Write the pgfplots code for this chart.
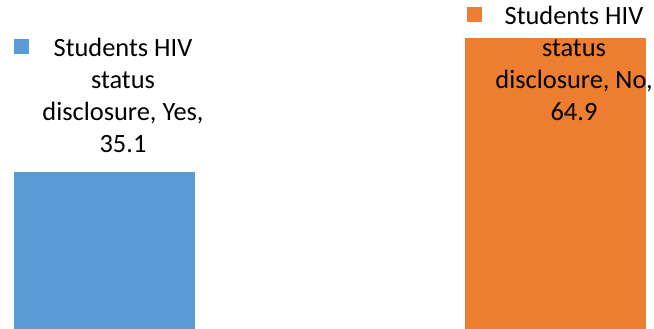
\documentclass[border=0pt]{standalone}
\usepackage{pgfplots}
\pgfplotsset{compat=1.18}
\usepackage{fontspec}
\setmainfont{Carlito}
\definecolor{cblue}{HTML}{5B9BD5}
\definecolor{corange}{HTML}{ED7D31}
\begin{document}
\begin{tikzpicture}
\begin{axis}[
  scale only axis, width=654bp, height=329bp,
  hide axis,
  xmin=-0.2317, xmax=1.2184,
  ymin=0, ymax=73.5,
  clip=true,
]
\addplot[ybar, bar shift=0pt, bar width=0.4013, fill=cblue, draw=none,
  nodes near coords={\llap{\textcolor{cblue}{\rule[2bp]{15bp}{15bp}}\hspace{25bp}}Students HIV\\status\\disclosure, Yes,\\35.1},
  every node near coord/.append style={anchor=south, inner sep=0pt, align=center,
    xshift=18.5bp, yshift=19bp, text=black,
    font=\fontsize{26.4bp}{32bp}\selectfont}]
  coordinates {(0,35.1)};
\addplot[ybar, bar shift=0pt, bar width=0.4013, fill=corange, draw=none,
  nodes near coords={\llap{\textcolor{corange}{\rule[2bp]{15bp}{15bp}}\hspace{23bp}}Students HIV\\status\\disclosure, No,\\64.9},
  every node near coord/.append style={anchor=south, inner sep=0pt, align=center,
    xshift=18.5bp, yshift=-82bp, text=black,
    font=\fontsize{26.4bp}{32bp}\selectfont}]
  coordinates {(1,64.9)};
\end{axis}
\pgfresetboundingbox
\path (current axis.south west) rectangle (current axis.north east);
\end{tikzpicture}
\end{document}
